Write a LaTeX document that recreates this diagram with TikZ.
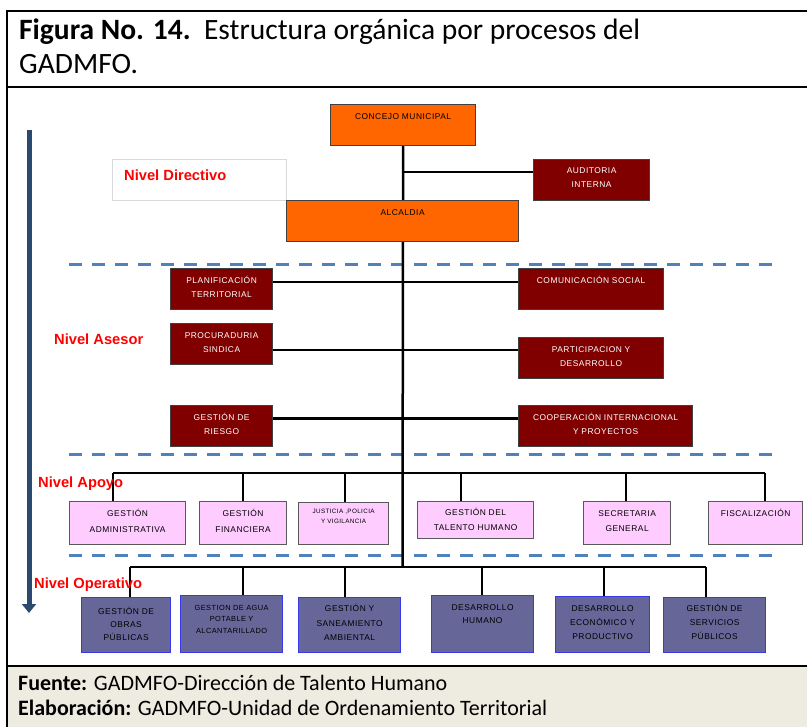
\documentclass[tikz,border=0pt]{standalone}
\usepackage{fontspec}
\setmainfont{Carlito}
\newfontfamily\arl[LetterSpace=6]{Liberation Sans}
\newfontfamily\arlb{Liberation Sans}
\usetikzlibrary{arrows.meta}
\pgfdeclarelayer{bg}
\pgfsetlayers{bg,main}
\definecolor{orgorange}{HTML}{FF6600}
\definecolor{maroonc}{HTML}{800000}
\definecolor{pinkbox}{HTML}{FFCCFF}
\definecolor{opfill}{HTML}{666699}
\definecolor{opborder}{HTML}{3838E8}
\definecolor{dashblue}{HTML}{4F81BD}
\definecolor{navyc}{HTML}{2C4A70}
\definecolor{footbg}{HTML}{EEECE1}
\tikzset{
 box/.style={draw=black!75, line width=1.2pt, inner sep=0pt, anchor=north west},
 orangebox/.style={box, fill=orgorange},
 redbox/.style={box, fill=maroonc},
 pinkb/.style={box, fill=pinkbox, draw=black!65},
 opbox/.style={box, fill=opfill, draw=opborder},
 lvlbox/.style={box, fill=white, draw=black!15, line width=0.8pt},
 fs/.style 2 args={font=\arl\fontsize{#1}{#2}\selectfont},
 txt/.style={anchor=base, inner sep=0pt, text width=200pt, align=center, fs={8.4}{14}},
 wtxt/.style={txt, text=white},
 conn/.style={line width=2.5pt, black},
 lvl/.style={anchor=base west, inner sep=0pt, text=red, font=\arlb\bfseries\fontsize{14.7}{18}\selectfont},
 sepline/.style={dashblue, line width=3pt, dash pattern=on 13pt off 10pt},
 frame/.style={line width=2pt, black},
 title/.style={anchor=base west, inner sep=0pt, font=\fontsize{29.5}{34}\selectfont},
 foot/.style={anchor=base west, inner sep=0pt, font=\fontsize{22}{25}\selectfont},
}
\newcommand\bx[6]{\node[#2, minimum width=#5pt, minimum height=#6pt] (#1) at (#3,#4) {};}
\newcommand\tx[4]{\node[#2] (#1-t) at ([yshift=-#3pt]#1.north) {#4};}
\begin{document}
\begin{tikzpicture}[x=1pt,y=-1pt]
\useasboundingbox (0,0) rectangle (807,727);
% frame and footer background
\fill[footbg] (7,666) rectangle (807,727);
\draw[frame] (7,727) -- (7,11) -- (807,11);
\draw[frame] (7,87) -- (807,87);
\draw[frame] (7,666) -- (807,666);
% title
\node[title] (title1) at (19,40) {\textbf{Figura No. 14.}\ \ Estructura orgánica por procesos del};
\node[title] (title2) at (19,74) {GADMFO.};
% footer
\node[foot] (fuente) at (18,690) {\textbf{Fuente:} GADMFO-Dirección de Talento Humano};
\node[foot] (elab) at (18,715) {\textbf{Elaboración:} GADMFO-Unidad de Ordenamiento Territorial};
% left arrow
\coordinate (arrtop) at (29,130);
\coordinate (arrbot) at (29,613);
\draw[navyc, line width=5pt, -{Triangle[width=14pt,length=9pt]}] (arrtop) -- (arrbot);
% level label box
\bx{nivdir}{lvlbox}{112}{159}{174}{41}
\node[lvl] (nivdir-t) at (124,181) {Nivel Directivo};
\node[lvl] (nivase) at (54,345) {Nivel Asesor};
\node[lvl] (nivapo) at (38,488) {Nivel Apoyo};
\node[lvl] (nivope) at (34,588) {Nivel Operativo};
% boxes
\bx{concejo}{orangebox}{330}{104}{145}{41}
\bx{auditoria}{redbox}{533}{159}{116}{41}
\bx{alcaldia}{orangebox}{286}{200}{232}{41}
\bx{planif}{redbox}{170}{268}{102}{41}
\bx{comunic}{redbox}{518}{268}{145}{41}
\bx{procur}{redbox}{170}{323}{102}{41}
\bx{particip}{redbox}{518}{337}{145}{41}
\bx{riesgo}{redbox}{170}{405}{102}{41}
\bx{coop}{redbox}{518}{405}{174}{41}
\bx{adm}{pinkb}{69}{501}{116}{43}
\bx{fin}{pinkb}{199}{501}{87}{43}
\bx{just}{pinkb}{298}{502}{90}{42}
\bx{tal}{pinkb}{417}{501}{116}{37}
\bx{sec}{pinkb}{583}{501}{87}{43}
\bx{fisc}{pinkb}{708}{501}{94}{43}
\bx{obras}{opbox}{81}{597}{89}{55}
\bx{agua}{opbox}{180}{595}{102}{57}
\bx{san}{opbox}{298}{597}{102}{55}
\bx{dhum}{opbox}{431}{595}{102}{57}
\bx{decon}{opbox}{555}{596}{94}{56}
\bx{serv}{opbox}{663}{597}{102}{55}
% texts
\tx{concejo}{txt}{16}{CONCEJO MUNICIPAL}
\tx{auditoria}{wtxt}{15}{AUDITORIA\\INTERNA}
\tx{alcaldia}{txt}{16}{ALCALDIA}
\tx{planif}{wtxt}{16}{PLANIFICACIÓN\\TERRITORIAL}
\tx{comunic}{wtxt}{16}{COMUNICACIÓN SOCIAL}
\tx{procur}{wtxt}{16}{PROCURADURIA\\SINDICA}
\tx{particip}{wtxt}{16}{PARTICIPACION Y\\DESARROLLO}
\tx{riesgo}{wtxt}{16}{GESTIÓN DE\\RIESGO}
\tx{coop}{wtxt}{16}{COOPERACIÓN INTERNACIONAL\\Y PROYECTOS}
\tx{adm}{txt,fs={8.4}{15.5}}{16}{GESTIÓN\\ADMINISTRATIVA}
\tx{fin}{txt,fs={8.4}{15.5}}{16}{GESTIÓN\\FINANCIERA}
\tx{just}{txt,fs={6.3}{10}}{12}{JUSTICIA ,POLICIA\\Y VIGILANCIA}
\tx{tal}{txt,fs={8.4}{15}}{15}{GESTIÓN DEL\\TALENTO HUMANO}
\tx{sec}{txt,fs={8.4}{15}}{16}{SECRETARIA\\GENERAL}
\tx{fisc}{txt}{16}{FISCALIZACIÓN}
\tx{obras}{txt,fs={8.4}{13.5}}{17}{GESTIÓN DE\\OBRAS\\PÚBLICAS}
\tx{agua}{txt,fs={7.4}{12}}{15}{GESTION DE AGUA\\POTABLE Y\\ALCANTARILLADO}
\tx{san}{txt,fs={8.4}{14.5}}{15}{GESTIÓN Y\\SANEAMIENTO\\AMBIENTAL}
\tx{dhum}{txt,fs={8.4}{13}}{16}{DESARROLLO\\HUMANO}
\tx{decon}{txt,fs={8.4}{14}}{16}{DESARROLLO\\ECONÓMICO Y\\PRODUCTIVO}
\tx{serv}{txt,fs={8.4}{14}}{15}{GESTIÓN DE\\SERVICIOS\\PÚBLICOS}
% connectors and separators behind boxes
\begin{pgfonlayer}{bg}
\coordinate (s1a) at (69,265); \coordinate (s1b) at (777,265);
\coordinate (s2a) at (69,455); \coordinate (s2b) at (777,455);
\coordinate (s3a) at (69,556); \coordinate (s3b) at (777,556);
\draw[sepline] (s1a) -- (s1b);
\draw[sepline] (s2a) -- (s2b);
\draw[sepline] (s3a) -- (s3b);
\coordinate (opbus) at (402.5,567);
\draw[conn] (concejo.south) -- (opbus);
\coordinate (j1) at (402.5,172);
\draw[conn] (j1) -- (j1 -| auditoria.west);
\coordinate (j2) at (402.5,282);
\draw[conn] (j2 -| planif.east) -- (j2 -| comunic.west);
\coordinate (j3) at (402.5,350);
\draw[conn] (j3 -| procur.east) -- (j3 -| particip.west);
\coordinate (j4) at (402.5,418.5);
\draw[conn] (j4 -| riesgo.east) -- (j4 -| coop.west);
% apoyo bus
\coordinate (a1) at (113,473); \coordinate (a2) at (243,473);
\coordinate (a3) at (345,473); \coordinate (a4) at (461,473);
\coordinate (a5) at (626,473); \coordinate (a6) at (765,473);
\draw[conn] (a1) -- (a6);
\draw[conn] (a1) -- (a1 |- adm.north);
\draw[conn] (a2) -- (a2 |- fin.north);
\draw[conn] (a3) -- (a3 |- just.north);
\draw[conn] (a4) -- (a4 |- tal.north);
\draw[conn] (a5) -- (a5 |- sec.north);
\draw[conn] (a6) -- (a6 |- fisc.north);
% operativo bus
\coordinate (o1) at (130,567); \coordinate (o2) at (243,567);
\coordinate (o3) at (345,567); \coordinate (o4) at (482,567);
\coordinate (o5) at (604,567); \coordinate (o6) at (706,567);
\draw[conn] (o1) -- (o6);
\draw[conn] (o1) -- (o1 |- obras.north);
\draw[conn] (o2) -- (o2 |- agua.north);
\draw[conn] (o3) -- (o3 |- san.north);
\draw[conn] (o4) -- (o4 |- dhum.north);
\draw[conn] (o5) -- (o5 |- decon.north);
\draw[conn] (o6) -- (o6 |- serv.north);
\end{pgfonlayer}
\end{tikzpicture}
\end{document}
